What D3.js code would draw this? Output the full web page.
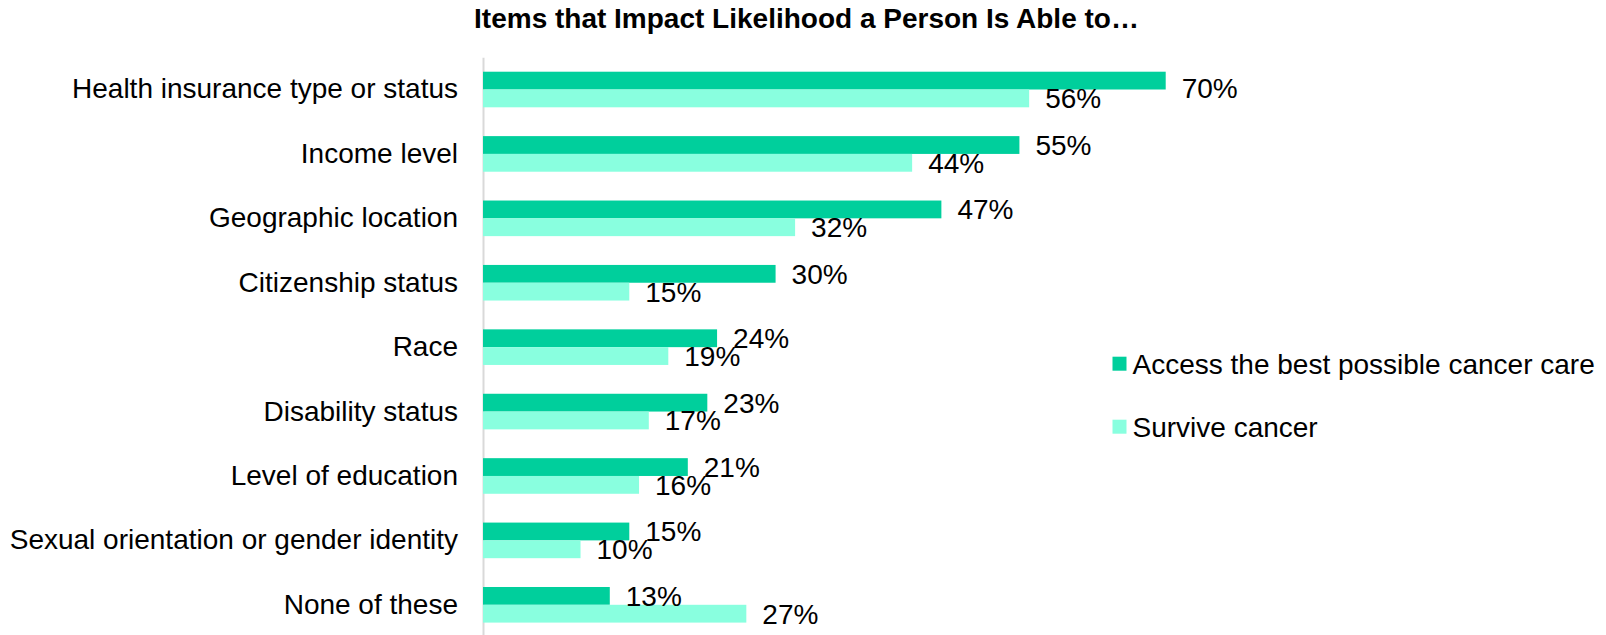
<!DOCTYPE html>
<html>
<head>
<meta charset="utf-8">
<script src="https://cdn.jsdelivr.net/npm/d3@7"></script>
<style>
    body { margin: 0; background: #fff; }
    svg text { font-family: "Liberation Sans", Arial, sans-serif; fill: #000; }
</style>
</head>
<body>
<svg class="chart"></svg>
<script>
/////////////// data ////////////////
const CATEGORIES = [
    "Health insurance type or status",
    "Income level",
    "Geographic location",
    "Citizenship status",
    "Race",
    "Disability status",
    "Level of education",
    "Sexual orientation or gender identity",
    "None of these"
];
const SERIES_NAMES = ["Access the best possible cancer care", "Survive cancer"];
const ACCESS_VALS = [70, 55, 47, 30, 24, 23, 21, 15, 13];
const SURVIVE_VALS = [56, 44, 32, 15, 19, 17, 16, 10, 27];
const TITLE = "Items that Impact Likelihood a Person Is Able to…";

/////////////// layout ////////////////
const W = 1606;
const H = 635;
const FONT_SZ = 28;
const COLORS = ["#00cf9c", "#89ffdf"];
const AXIS_X = 483;
// the top label sits a little below its bar in the original
const LABEL_NUDGE = { "0-0": 7 };
const SVG = d3.select(".chart")
    .attr("width", W)
    .attr("height", H);

// x: percent -> px, 70% ends around 1166
const SCL_X = d3.scaleLinear()
    .domain([0, 70])
    .range([AXIS_X, 1165.7]);
const SCL_Y = d3.scaleBand()
    .domain(CATEGORIES)
    .range([57.3, 637])
    .paddingInner(0)
    .paddingOuter(0);
const BAR_H = 17.8;

// build rows from the arrays
const rows = CATEGORIES.map((c, i) => ({
    cat: c,
    vals: [ACCESS_VALS[i], SURVIVE_VALS[i]].map((v, j) => ({ v: v, s: j, key: `${i}-${j}` }))
}));

/////////////// title ////////////////
SVG.append("text")
    .attr("x", 806.5)
    .attr("y", 28)
    .attr("text-anchor", "middle")
    .attr("font-weight", "bold")
    .attr("font-size", FONT_SZ)
    .text(TITLE);

/////////////// axis ////////////////
const Y_AXIS = SVG.append("g")
    .attr("transform", `translate(${AXIS_X}, 0)`)
    .call(d3.axisLeft(SCL_Y).tickSize(0).tickPadding(25));
Y_AXIS.select(".domain")
    .attr("stroke", "#d9d9d9")
    .attr("stroke-width", 2);
Y_AXIS.selectAll("text")
    .attr("font-size", FONT_SZ)
    .attr("font-family", null)
    .attr("fill", "#000");

/////////////// bars ////////////////
const ROW_GRP = SVG.append("g")
    .selectAll("g")
    .data(rows)
    .enter()
    .append("g")
    .attr("transform", d => `translate(0, ${SCL_Y(d.cat) + SCL_Y.bandwidth() / 2 - BAR_H})`);
ROW_GRP.selectAll("rect")
    .data(d => d.vals)
    .enter()
    .append("rect")
    .attr("x", SCL_X(0))
    .attr("y", d => d.s * BAR_H)
    .attr("width", d => SCL_X(d.v) - SCL_X(0))
    .attr("height", BAR_H)
    .attr("fill", d => COLORS[d.s]);
// value labels, centred on each bar
ROW_GRP.selectAll("text")
    .data(d => d.vals)
    .enter()
    .append("text")
    .attr("x", d => SCL_X(d.v) + 16)
    .attr("y", d => d.s * BAR_H + BAR_H / 2 + 10 + (LABEL_NUDGE[d.key] || 0))
    .attr("font-size", FONT_SZ)
    .text(d => `${d.v}%`);

/////////////// legend ////////////////
const LEGEND = SVG.append("g")
    .selectAll("g")
    .data(SERIES_NAMES)
    .enter()
    .append("g")
    .attr("transform", (d, i) => `translate(1112.5, ${363.7 + i * 63})`);
LEGEND.append("rect")
    .attr("x", 0)
    .attr("y", -7)
    .attr("width", 14)
    .attr("height", 14)
    .attr("fill", (d, i) => COLORS[i]);
LEGEND.append("text")
    .attr("x", 20)
    .attr("y", 10)
    .attr("font-size", FONT_SZ)
    .text(d => d);
</script>
</body>
</html>
